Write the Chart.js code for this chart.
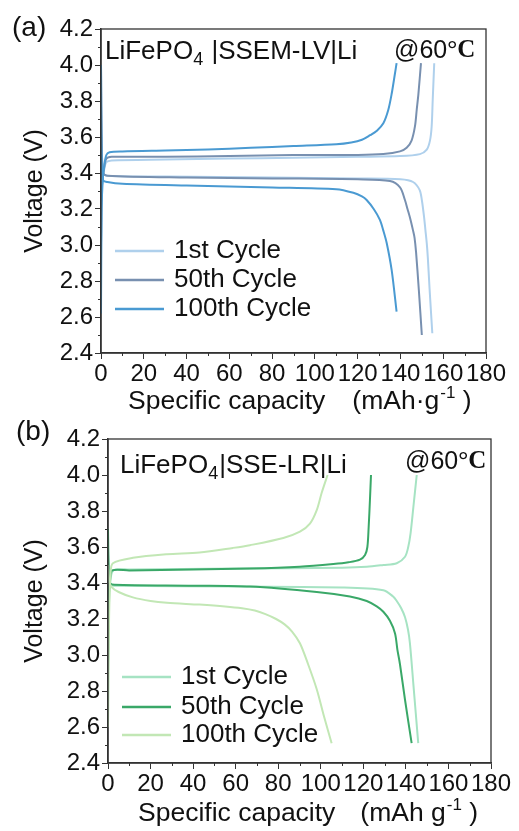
<!DOCTYPE html>
<html>
<head>
<meta charset="utf-8">
<script src="https://cdn.jsdelivr.net/npm/chart.js@4.4.1/dist/chart.umd.min.js"></script>
<style>
  html, body { margin: 0; padding: 0; background: #fff; }
  #wrap { position: relative; width: 519px; height: 831px; }
  canvas { position: absolute; left: 0; }
</style>
</head>
<body>
<div id="wrap">
  <canvas id="chartA" width="519" height="415" style="top:0"></canvas>
  <canvas id="chartB" width="519" height="416" style="top:415px"></canvas>
</div>
<script>
// axis ticks
const capTicks = [0, 20, 40, 60, 80, 100, 120, 140, 160, 180];
const voltTicks = [2.4, 2.6, 2.8, 3.0, 3.2, 3.4, 3.6, 3.8, 4.0, 4.2];
const cycleNames = ["1st Cycle", "50th Cycle", "100th Cycle"];

// (a) LiFePO4|SSEM-LV|Li — charge
const a1ChgCap = [0, 0.3, 0.8, 1.5, 2.5, 5, 30, 60, 90, 120, 139.8, 149.1, 152.3, 153.8, 154.6, 155.1, 155.8];
const a1ChgV   = [3.0, 3.3, 3.37, 3.42, 3.46, 3.47, 3.475, 3.48, 3.485, 3.49, 3.494, 3.505, 3.53, 3.58, 3.66, 3.81, 4.01];
const a50ChgCap = [0, 0.3, 0.8, 1.5, 2.5, 5, 30, 60, 90, 120, 132, 139.8, 142.9, 145.2, 146.8, 147.6, 148.4, 149.6];
const a50ChgV   = [3.0, 3.3, 3.37, 3.43, 3.48, 3.49, 3.49, 3.495, 3.50, 3.50, 3.505, 3.52, 3.54, 3.58, 3.66, 3.75, 3.84, 4.01];
const a100ChgCap = [0, 0.3, 0.8, 1.5, 2.5, 4, 10, 30, 50, 70, 90, 110, 117, 122, 125.8, 129, 132, 134.3, 135.9, 137.4, 138.2];
const a100ChgV   = [2.62, 3.2, 3.36, 3.44, 3.50, 3.515, 3.52, 3.525, 3.53, 3.54, 3.55, 3.56, 3.57, 3.585, 3.61, 3.635, 3.676, 3.75, 3.84, 3.95, 4.01];
// (a) discharge
const a1DisCap = [0, 0.3, 1, 3, 30, 80, 120, 140, 145.9, 149, 150, 151, 151.7, 152.3, 152.8, 153.6, 154.9];
const a1DisV   = [4.0, 3.6, 3.40, 3.385, 3.38, 3.375, 3.37, 3.365, 3.35, 3.305, 3.25, 3.16, 3.08, 3.01, 2.93, 2.76, 2.51];
const a50DisCap = [0, 0.3, 1, 3, 40, 80, 120, 135.1, 139.8, 142.1, 143.3, 144.5, 145.9, 146.6, 147.3, 148.6, 150];
const a50DisV   = [4.0, 3.6, 3.40, 3.385, 3.375, 3.37, 3.365, 3.355, 3.32, 3.25, 3.20, 3.15, 3.08, 3.04, 2.96, 2.75, 2.50];
const a100DisCap = [0, 0.3, 1, 3, 10, 40, 80, 110, 118, 122, 124.2, 127.5, 130.4, 132, 133.6, 135.9, 138.2];
const a100DisV   = [4.0, 3.5, 3.36, 3.35, 3.34, 3.33, 3.32, 3.31, 3.29, 3.27, 3.25, 3.20, 3.14, 3.08, 3.01, 2.86, 2.63];

// (b) LiFePO4|SSE-LR|Li — charge
const b1ChgCap = [0, 0.3, 1, 2.5, 10, 60, 110, 121.6, 129.4, 135.7, 139.6, 141.1, 142.2, 143.5, 145.1];
const b1ChgV   = [2.62, 3.2, 3.40, 3.47, 3.475, 3.48, 3.485, 3.49, 3.50, 3.51, 3.546, 3.60, 3.676, 3.82, 4.0];
const b50ChgCap = [0, 0.3, 1, 2, 10, 40, 67, 90, 105.9, 113, 118.4, 120.8, 121.9, 122.5, 123.1, 123.6];
const b50ChgV   = [2.93, 3.3, 3.42, 3.47, 3.47, 3.475, 3.48, 3.49, 3.505, 3.515, 3.53, 3.556, 3.60, 3.71, 3.86, 4.0];
const b100ChgCap = [0, 0.5, 1.2, 2.3, 11.7, 27.7, 43, 58.7, 66.7, 82.4, 90.2, 94.9, 98.1, 100.4, 103.2];
const b100ChgV   = [2.6, 3.2, 3.45, 3.51, 3.54, 3.56, 3.57, 3.595, 3.61, 3.65, 3.685, 3.73, 3.805, 3.90, 4.0];
// (b) discharge
const b1DisCap = [0, 0.3, 1, 3, 60, 110, 129.4, 134, 135.7, 137.8, 139.6, 141, 141.9, 143.5, 145.8];
const b1DisV   = [3.6, 3.45, 3.39, 3.385, 3.38, 3.375, 3.36, 3.325, 3.30, 3.26, 3.21, 3.14, 3.065, 2.84, 2.51];
const b50DisCap = [0, 0.3, 1, 3, 40, 66.7, 98.1, 113.7, 121.6, 126.3, 129.4, 132.5, 134.9, 136, 137.2, 139.6, 142.7];
const b50DisV   = [3.7, 3.5, 3.40, 3.39, 3.385, 3.38, 3.35, 3.325, 3.30, 3.27, 3.24, 3.19, 3.12, 3.03, 2.95, 2.75, 2.51];
const b100DisCap = [0, 0.5, 1.5, 5, 11.7, 20, 27.7, 43, 55, 63, 69, 74, 79, 83, 86.5, 90.2, 94, 98.1, 101.5, 105.1];
const b100DisV   = [3.5, 3.42, 3.38, 3.35, 3.32, 3.30, 3.29, 3.28, 3.27, 3.26, 3.247, 3.227, 3.20, 3.17, 3.13, 3.065, 2.95, 2.81, 2.66, 2.51];

const colorsA = ["#afd0ec", "#7890b0", "#4a9ad2"];
const colorsB = ["#a6e3c3", "#3aa868", "#c2e7b5"];

const SANS = "'Liberation Sans', Arial, sans-serif";

function toPoints(xs, ys) {
    return xs.map((x, i) => ({ x: x, y: ys[i] }));
}

function makeDatasets(curves, colors) {
    const sets = [];
    curves.forEach((c, i) => {
        [c.chg, c.dis].forEach(pair => {
            sets.push({
                label: cycleNames[i],
                data: toPoints(pair[0], pair[1]),
                borderColor: colors[i],
                borderWidth: 2,
                showLine: true,
                pointRadius: 0,
                fill: false,
                tension: 0.3,
                order: 2 - i
            });
        });
    });
    return sets;
}

// frame, minor ticks, labels and legend drawn on top of the plot
const decorPlugin = {
    id: "decor",
    afterDraw(chart) {
        const o = chart.options.plugins.decor;
        const ctx = chart.ctx;
        const area = chart.chartArea;
        const xs = chart.scales.x, ys = chart.scales.y;
        ctx.save();

        ctx.strokeStyle = "#333";
        ctx.lineWidth = 1.3;
        ctx.strokeRect(area.left, area.top, area.right - area.left, area.bottom - area.top);

        // minor ticks
        ctx.lineWidth = 1;
        ctx.beginPath();
        for (let i = 0; i < capTicks.length - 1; i++) {
            const px = Math.round(xs.getPixelForValue((capTicks[i] + capTicks[i + 1]) / 2)) + 0.5;
            ctx.moveTo(px, area.bottom);
            ctx.lineTo(px, area.bottom + 3);
        }
        for (let i = 0; i < voltTicks.length - 1; i++) {
            const py = Math.round(ys.getPixelForValue((voltTicks[i] + voltTicks[i + 1]) / 2)) + 0.5;
            ctx.moveTo(area.left, py);
            ctx.lineTo(area.left - 3, py);
        }
        ctx.stroke();

        ctx.fillStyle = "#111";
        ctx.textBaseline = "middle";
        ctx.textAlign = "left";

        // panel letter
        ctx.font = "28px " + SANS;
        ctx.fillText(o.letter, o.letterX, o.letterY);

        // cell label with subscript
        let x = o.cellX;
        ctx.font = "26px " + SANS;
        ctx.fillText("LiFePO", x, o.cellY);
        x += ctx.measureText("LiFePO").width;
        ctx.font = "18px " + SANS;
        ctx.fillText("4", x, o.cellY + 8);
        x += ctx.measureText("4").width + 1;
        ctx.font = "26px " + SANS;
        ctx.fillText(o.cell, x, o.cellY);

        // temperature
        x = o.tempX;
        ctx.font = "25px " + SANS;
        ctx.fillText("@60", x, o.tempY);
        x += ctx.measureText("@60").width;
        ctx.font = "bold 25px 'Liberation Serif', serif";
        ctx.fillText("\u00b0C", x, o.tempY);

        // x axis title with superscript
        x = o.titleX;
        ctx.font = "26.5px " + SANS;
        ctx.fillText("Specific capacity", x, o.titleY);
        x += ctx.measureText("Specific capacity").width + o.titleGap;
        ctx.fillText(o.unit, x, o.titleY);
        x += ctx.measureText(o.unit).width + 1;
        ctx.font = "17px " + SANS;
        ctx.fillText("-1", x, o.titleY - 9);
        x += ctx.measureText("-1").width;
        ctx.font = "26.5px " + SANS;
        ctx.fillText(" )", x, o.titleY);

        // legend
        ctx.font = "26px " + SANS;
        o.legendY.forEach((ly, i) => {
            ctx.strokeStyle = o.colors[i];
            ctx.lineWidth = 2.5;
            ctx.beginPath();
            ctx.moveTo(o.legendX, ly);
            ctx.lineTo(o.legendX + 49, ly);
            ctx.stroke();
            ctx.fillStyle = "#111";
            ctx.fillText(cycleNames[i], o.legendX + 59, ly);
        });
        ctx.restore();
    }
};

function buildChart(id, curves, colors, decor, layout) {
    new Chart(document.getElementById(id), {
        type: "scatter",
        data: { datasets: makeDatasets(curves, colors) },
        plugins: [decorPlugin],
        options: {
            responsive: false,
            animation: false,
            layout: { padding: { left: 0, top: layout.top, right: layout.right, bottom: 0 } },
            plugins: { legend: { display: false }, tooltip: { enabled: false }, decor: decor },
            scales: {
                x: {
                    type: "linear", min: 0, max: 180,
                    afterBuildTicks: s => { s.ticks = capTicks.map(v => ({ value: v })); },
                    afterFit: s => { s.height = layout.xHeight; },
                    border: { color: "#333", width: 1.5 },
                    grid: { drawOnChartArea: false, tickLength: 6, color: "#333" },
                    ticks: { color: "#111", font: { size: 24, family: SANS }, padding: 1, maxRotation: 0, autoSkip: false }
                },
                y: {
                    type: "linear", min: 2.4, max: 4.2,
                    afterBuildTicks: s => { s.ticks = voltTicks.map(v => ({ value: v })); },
                    afterFit: s => { s.width = layout.yWidth; },
                    border: { color: "#333", width: 1.5 },
                    grid: { drawOnChartArea: false, tickLength: 6, color: "#333" },
                    ticks: { color: "#111", font: { size: 24, family: SANS }, padding: 2, callback: v => v.toFixed(1) },
                    title: { display: true, text: "Voltage (V)", color: "#111", font: { size: 25, family: SANS }, padding: { top: 20 } }
                }
            }
        }
    });
}

buildChart("chartA", [
    { chg: [a1ChgCap, a1ChgV], dis: [a1DisCap, a1DisV] },
    { chg: [a50ChgCap, a50ChgV], dis: [a50DisCap, a50DisV] },
    { chg: [a100ChgCap, a100ChgV], dis: [a100DisCap, a100DisV] }
], colorsA, {
    letter: "(a)", letterX: 12, letterY: 28,
    cell: " |SSEM-LV|Li", cellX: 105, cellY: 52,
    tempX: 394, tempY: 51,
    unit: "(mAh\u00b7g", titleX: 128, titleY: 402, titleGap: 27,
    legendX: 115, legendY: [251, 280, 309], colors: colorsA
}, { top: 29, right: 33, xHeight: 62, yWidth: 101 });

buildChart("chartB", [
    { chg: [b1ChgCap, b1ChgV], dis: [b1DisCap, b1DisV] },
    { chg: [b50ChgCap, b50ChgV], dis: [b50DisCap, b50DisV] },
    { chg: [b100ChgCap, b100ChgV], dis: [b100DisCap, b100DisV] }
], colorsB, {
    letter: "(b)", letterX: 16, letterY: 17,
    cell: "|SSE-LR|Li", cellX: 120, cellY: 51,
    tempX: 405, tempY: 47,
    unit: "(mAh g", titleX: 138, titleY: 399, titleGap: 25,
    legendX: 122, legendY: [262, 292, 320], colors: colorsB
}, { top: 24, right: 28, xHeight: 68, yWidth: 108 });
</script>
</body>
</html>
